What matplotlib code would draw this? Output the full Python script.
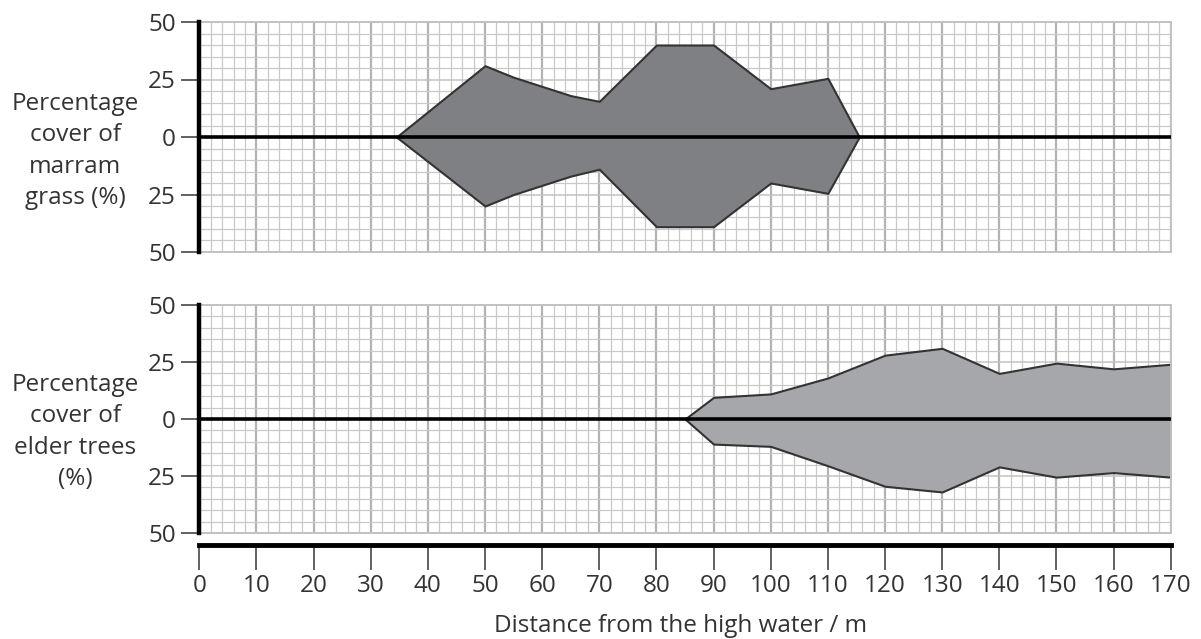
import matplotlib
matplotlib.use('Agg')
import matplotlib.pyplot as plt
from matplotlib.ticker import MultipleLocator, FixedLocator

# ---- data ----
marram_x = [34.5, 50, 55, 60, 65, 70, 80, 90, 100, 110, 115.5]
marram_upper = [0, 31, 26, 22, 18, 15.5, 40, 40, 21, 25.5, 0]
marram_lower = [0, 30, 25, 21, 17, 14, 39, 39, 20, 24.5, 0]

elder_x = [85, 90, 100, 110, 115, 120, 130, 140, 150, 160, 170]
elder_upper = [0, 9.5, 11, 18, 23, 28, 31, 20, 24.5, 22, 24]
elder_lower = [0, 11, 12, 20.5, 25, 29.5, 32, 21, 25.5, 23.5, 25.5]

x_ticks = list(range(0, 171, 10))
y_ticks = [-50, -25, 0, 25, 50]
y_tick_labels = ['50', '25', '0', '25', '50']

marram_label = 'Percentage\ncover of\nmarram\ngrass (%)'
elder_label = 'Percentage\ncover of\nelder trees\n(%)'
x_label = 'Distance from the high water / m'

FONT = ['Open Sans', 'DejaVu Sans']
plt.rcParams['font.family'] = FONT
TXT = '#333333'

W, H = 1201, 639
fig = plt.figure(figsize=(W / 100, H / 100), dpi=100)


def px(x0, y0, x1, y1):
    return [x0 / W, 1 - y1 / H, (x1 - x0) / W, (y1 - y0) / H]


def kite_axes(rect, xs, up, lo, color, label, label_y):
    ax = fig.add_axes(rect)
    ax.set_xlim(0, 170)
    ax.set_ylim(-50, 50)
    ax.xaxis.set_major_locator(MultipleLocator(10))
    ax.xaxis.set_minor_locator(MultipleLocator(2))
    ax.yaxis.set_major_locator(FixedLocator(y_ticks))
    ax.yaxis.set_minor_locator(MultipleLocator(5))
    ax.grid(which='minor', color='#c9c9c9', lw=0.9, zorder=0)
    ax.grid(which='major', axis='x', color='#b3b3b3', lw=1.6, zorder=0)
    ax.grid(which='major', axis='y', color='#c2c2c2', lw=1.1, zorder=0)
    ax.set_axisbelow(True)
    ax.fill_between(xs, up, [-v for v in lo], facecolor=color,
                    edgecolor='#333333', lw=1.5, zorder=2)
    ax.axhline(0, color='black', lw=2.6, zorder=3)
    for s in ['top', 'right', 'bottom']:
        ax.spines[s].set_color('#c2c2c2')
        ax.spines[s].set_linewidth(1.4)
    ax.spines['left'].set_color('black')
    ax.spines['left'].set_linewidth(3.2)
    ax.spines['left'].set_zorder(5)
    ax.set_yticks(y_ticks)
    ax.set_yticklabels(y_tick_labels)
    ax.tick_params(axis='y', which='major', length=13, width=1.3,
                   color='#555555', labelsize=17.5, labelcolor=TXT, pad=4)
    ax.tick_params(axis='y', which='minor', length=0)
    ax.tick_params(axis='x', which='both', length=0, labelbottom=False)
    fig.text(75 / W, 1 - label_y / H, label, ha='center', va='center',
             fontsize=17.5, color=TXT, linespacing=1.42)
    return ax


ax1 = kite_axes(px(199.3, 22, 1170.7, 252), marram_x, marram_upper, marram_lower,
                '#7f8084', marram_label, 151)
ax2 = kite_axes(px(199.3, 305, 1170.7, 533), elder_x, elder_upper, elder_lower,
                '#a6a7ab', elder_label, 432)

# separate distance axis
ax3 = fig.add_axes(px(199.3, 540, 1170.7, 544.5))
ax3.set_xlim(0, 170)
ax3.set_xticks(x_ticks)
ax3.set_yticks([])
for s in ['top', 'right', 'left']:
    ax3.spines[s].set_visible(False)
ax3.spines['bottom'].set_linewidth(3.5)
ax3.spines['bottom'].set_color('black')
ax3.patch.set_alpha(0)
ax3.tick_params(axis='x', length=18, width=1.3, color='#555555',
                labelsize=17.5, labelcolor=TXT, pad=3)
fig.text(681 / W, 1 - 626 / H, x_label, ha='center', va='center',
         fontsize=17.5, color=TXT)

fig.savefig('out.png', dpi=100)
